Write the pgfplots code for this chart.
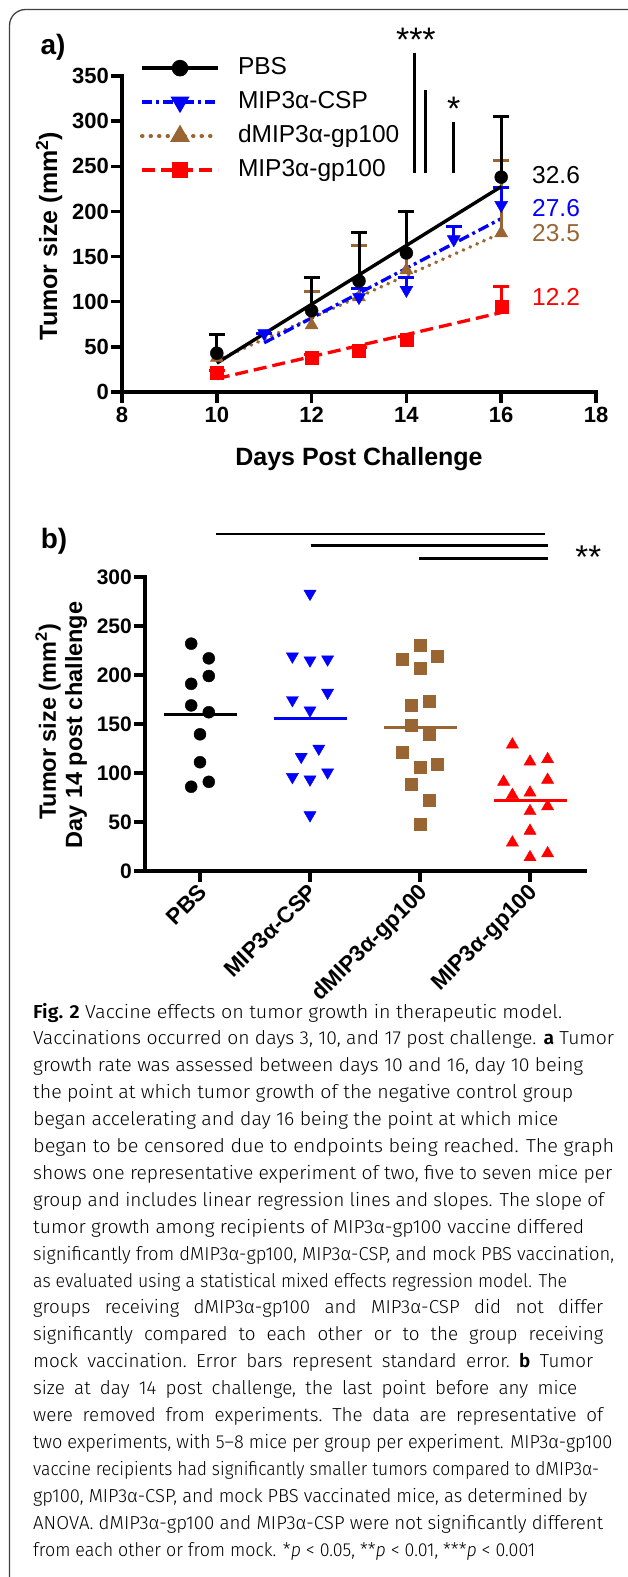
\documentclass[border=0pt]{standalone}
\usepackage{fontspec}
\usepackage{graphicx}
\setmainfont{Liberation Sans}
\newfontfamily\capfont{Fira Sans Light}[BoldFont={Fira Sans SemiBold},ItalicFont={Fira Sans Light Italic}]
\usepackage{pgfplots}
\usepackage{pgfplotstable}
\pgfplotsset{compat=1.18}
\definecolor{csp}{HTML}{0000FF}
\definecolor{dmip}{HTML}{996633}
\definecolor{gp}{HTML}{FF0000}
\newcommand\fs[1]{\fontsize{#1}{#1}\selectfont}

% panel a: mean and upper error per day
\pgfplotstableread{
x y e
10 43 21
12 90 37
13 123 54
14 154 46
16 238 67
}\pbsA
\pgfplotstableread{
x y e
11 65 0
13 105 10
14 113 14
15 169 14
16 207 19
}\cspA
\pgfplotstableread{
x y e
10 38 26
12 74 37
13 105 57
14 135 65
16 176 80
}\dmipA
\pgfplotstableread{
x y e
10 21 3
12 38 3
13 46 3
14 58 3
16 94 23
}\gpA

% panel b: single mice at day 14 (x = group + jitter)
\pgfplotstableread{
x y
-0.08 232
0.08 217
0.08 199
-0.08 191
-0.08 169
0.08 162
0 139.5
0 111
0.08 91
-0.08 86
}\pbsB
\pgfplotstableread{
x y
1.00 283
0.84 219
1.00 215
1.16 216
1.16 182
0.84 174.5
1.00 164
1.08 125
0.92 116.6
1.16 100.7
0.84 96
1.00 93.5
1.00 57
}\cspB
\pgfplotstableread{
x y
2.00 230
2.16 219
1.84 216
2.00 207
2.08 173.5
1.92 169
1.92 149
2.08 140
1.84 121
2.16 109
2.00 106
1.92 89
2.08 72.4
2.00 48
}\dmipB
\pgfplotstableread{
x y
2.84 129
3.00 111.5
3.16 114
2.76 91
3.16 93
2.84 77.5
3.00 80
3.16 66
3.00 61
3.00 41
2.84 29
3.16 18
3.00 14
}\gpB

\pgfplotsset{
  prism/.style={
    scale only axis, clip=false,
    axis x line*=bottom, axis y line*=left,
    axis line style={line width=4pt, line cap=rect},
    every tick/.style={black, line width=3.5pt},
    tick align=outside, major tick length=11pt,
    /pgf/number format/assume math mode=true,
  },
  pbsS/.style={black, line width=3.5pt, solid, mark=*, mark size=6.5pt},
  cspS/.style={csp, line width=3.5pt, dash pattern=on 10pt off 4pt on 3pt off 4pt, mark=triangle*, mark size=7.5pt, mark options={rotate=180, solid}},
  dmipS/.style={dmip, line width=4pt, line cap=round, dash pattern=on 0.5pt off 8pt, mark=triangle*, mark size=7.5pt, mark options={solid}},
  gpS/.style={gp, line width=3.5pt, dash pattern=on 13pt off 6pt, mark=square*, mark size=6.5pt, mark options={solid}},
  ebar/.style={error bars/.cd, y dir=plus, y explicit, error bar style={line width=3pt, #1},
    error mark options={rotate=90, line width=3pt, mark size=8pt, #1}},
}

% caption lines: baseline y, width, text
\newcommand\capfit[3]{\node[anchor=base west, inner sep=0pt, font=\capfont\fs{18.8}] at (33pt,-#1pt)
  {\resizebox{#2pt}{\height}{#3}};}
\newcommand\capjust[3]{\node[anchor=base west, inner sep=0pt, font=\capfont\fs{18.8}] at (33pt,-#1pt)
  {\frenchspacing\spaceskip=\fontdimen2\font plus 1em minus 0.1em\makebox[#2pt][s]{#3}};}

\begin{document}
\begin{tikzpicture}
\useasboundingbox (0pt,0pt) rectangle (627pt,-1577pt);
\fill[white] (0pt,0pt) rectangle (627pt,-1577pt);
\draw[line width=1.3pt, black!75, rounded corners=16pt] (9.5pt,-1620pt) -- (9.5pt,-9.5pt) -- (680pt,-9.5pt);

% ---------------- panel a
\begin{axis}[prism,
  at={(122pt,-392pt)}, anchor=south west,
  width=474pt, height=316pt,
  xmin=8, xmax=18, ymin=0, ymax=350,
  xtick={8,10,12,14,16,18}, ytick={0,50,...,350},
  xticklabel style={font=\fs{22}\bfseries, inner sep=4pt},
  yticklabel style={font=\fs{22}\bfseries, inner sep=2pt},
  legend image code/.code={\draw[mark repeat=2,mark phase=2,#1] plot coordinates {(0pt,0pt) (38pt,0pt) (76pt,0pt)};},
  legend style={at={(axis cs:8.38,372)}, anchor=north west, draw=none, fill=none,
    inner sep=0pt, outer sep=0pt, row sep=10pt, column sep=18pt, font=\fs{24.5},
    nodes={inner sep=0pt, text height=18pt, text depth=6pt}},
  legend cell align=left,
]
\addlegendimage{pbsS}\addlegendentry{PBS}
\addlegendimage{cspS}\addlegendentry{MIP3α-CSP}
\addlegendimage{dmipS}\addlegendentry{dMIP3α-gp100}
\addlegendimage{gpS}\addlegendentry{MIP3α-gp100}

% significance bars
\addplot[black, line width=3pt, forget plot] coordinates {(14.17,376) (14.17,242.5)};
\addplot[black, line width=3pt, forget plot] coordinates {(14.41,334) (14.41,242.5)};
\addplot[black, line width=3pt, forget plot] coordinates {(15.0,299) (15.0,242.5)};

% regression lines
\addplot[gp, line width=3.3pt, dash pattern=on 13pt off 6pt, forget plot] coordinates {(10,14.8) (16,88)};
\addplot[dmip, line width=3.6pt, line cap=round, dash pattern=on 0.5pt off 7pt, forget plot] coordinates {(10,35) (16,176)};
\addplot[csp, line width=3.3pt, dash pattern=on 11pt off 4pt on 3pt off 4pt, forget plot] coordinates {(11,54.5) (16,192)};

% group means with upper error
\addplot[gp, only marks, mark=square*, mark size=6.5pt, mark options={draw=none, fill=gp}, forget plot, ebar=gp]
  table[x=x, y=y, y error=e] {\gpA};
\addplot[dmip, only marks, mark=triangle*, mark size=7.5pt, mark options={draw=none, fill=dmip}, forget plot, ebar=dmip]
  table[x=x, y=y, y error=e] {\dmipA};
\addplot[csp, only marks, mark=triangle*, mark size=7.5pt, mark options={draw=none, fill=csp, rotate=180}, forget plot, ebar=csp]
  table[x=x, y=y, y error=e] {\cspA};
\addplot[black, line width=3.4pt, forget plot] coordinates {(10,32) (16,227.5)};
\addplot[black, only marks, mark=*, mark size=6.5pt, mark options={draw=none, fill=black}, forget plot, ebar=black]
  table[x=x, y=y, y error=e] {\pbsA};

% slopes
\node[anchor=west, font=\fs{24.5}, inner sep=0pt] at (axis cs:16.65,240) {32.6};
\node[anchor=west, font=\fs{24.5}, inner sep=0pt, text=csp] at (axis cs:16.65,204) {27.6};
\node[anchor=west, font=\fs{24.5}, inner sep=0pt, text=dmip] at (axis cs:16.65,176) {23.5};
\node[anchor=west, font=\fs{24.5}, inner sep=0pt, text=gp] at (axis cs:16.65,105) {12.2};
\node[anchor=base, font=\fs{34}, inner sep=0pt] at (axis cs:14.2,377) {***};
\node[anchor=base, font=\fs{34}, inner sep=0pt] at (axis cs:15.0,301) {*};
\end{axis}

% ---------------- panel b
\begin{axis}[prism,
  at={(145pt,-871pt)}, anchor=south west,
  width=440pt, height=294pt,
  xmin=-0.5, xmax=3.5, ymin=0, ymax=300,
  xtick={0,1,2,3}, xticklabels={PBS,MIP3α-CSP,dMIP3α-gp100,MIP3α-gp100},
  ytick={0,50,...,300},
  xticklabel style={font=\fs{22.5}\bfseries, rotate=45, anchor=north east, inner sep=0pt, xshift=-2pt, yshift=2pt},
  yticklabel style={font=\fs{21}\bfseries, inner sep=2pt},
]
\addplot[black, only marks, mark=*, mark size=6pt, mark options={draw=none, fill=black}] table[x=x, y=y] {\pbsB};
\addplot[csp, only marks, mark=triangle*, mark size=7pt, mark options={draw=none, fill=csp, rotate=180}] table[x=x, y=y] {\cspB};
\addplot[dmip, only marks, mark=square*, mark size=6pt, mark options={draw=none, fill=dmip}] table[x=x, y=y] {\dmipB};
\addplot[gp, only marks, mark=triangle*, mark size=7pt, mark options={draw=none, fill=gp}] table[x=x, y=y] {\gpB};
% group means
\addplot[black, line width=3pt] coordinates {(-0.33,160) (0.34,160)};
\addplot[csp, line width=3pt] coordinates {(0.67,155.6) (1.34,155.6)};
\addplot[dmip, line width=3pt] coordinates {(1.67,146.6) (2.34,146.6)};
\addplot[gp, line width=3pt] coordinates {(2.67,72.4) (3.34,72.4)};
% significance bars
\addplot[black, line width=2.7pt] coordinates {(0.145,344) (3.14,344)};
\addplot[black, line width=2.7pt] coordinates {(1.006,332) (3.16,332)};
\addplot[black, line width=2.7pt] coordinates {(1.995,318.6) (3.16,318.6)};
\node[anchor=base, font=\fs{33}, inner sep=0pt] at (axis cs:3.53,309) {**};
\end{axis}

% ---------------- panel labels
\node[font=\fs{28}\bfseries] at (53pt,-47pt) {a)};
\node[font=\fs{28}\bfseries] at (54pt,-541pt) {b)};
\node[rotate=90, font=\fs{25}\bfseries] at (49pt,-236pt) {Tumor size (mm\textsuperscript{2})};
\node[font=\fs{25}\bfseries] at (359pt,-459pt) {Days Post Challenge};
\node[rotate=90, font=\fs{23.5}\bfseries] at (48pt,-722pt) {Tumor size (mm\textsuperscript{2})};
\node[rotate=90, font=\fs{23.5}\bfseries] at (76pt,-725pt) {Day 14 post challenge};

% ---------------- caption
\capfit{1018.0}{529}{\textbf{Fig. 2} Vaccine effects on tumor growth in therapeutic model.}
\capfit{1044.9}{581}{Vaccinations occurred on days 3, 10, and 17 post challenge. \textbf{a} Tumor}
\capfit{1071.8}{550}{growth rate was assessed between days 10 and 16, day 10 being}
\capfit{1098.7}{540}{the point at which tumor growth of the negative control group}
\capfit{1125.6}{525}{began accelerating and day 16 being the point at which mice}
\capfit{1152.5}{581}{began to be censored due to endpoints being reached. The graph}
\capfit{1179.4}{579}{shows one representative experiment of two, five to seven mice per}
\capfit{1206.3}{571}{group and includes linear regression lines and slopes. The slope of}
\capfit{1233.2}{551}{tumor growth among recipients of MIP3α-gp100 vaccine differed}
\capfit{1260.1}{581}{significantly from dMIP3α-gp100, MIP3α-CSP, and mock PBS vaccination,}
\capfit{1287.0}{534}{as evaluated using a statistical mixed effects regression model. The}
\capjust{1313.9}{570}{groups receiving dMIP3α-gp100 and MIP3α-CSP did not differ}
\capjust{1340.8}{570}{significantly compared to each other or to the group receiving}
\capjust{1367.7}{560}{mock vaccination. Error bars represent standard error. \textbf{b} Tumor}
\capjust{1394.6}{544}{size at day 14 post challenge, the last point before any mice}
\capjust{1421.5}{570}{were removed from experiments. The data are representative of}
\capfit{1448.4}{579}{two experiments, with 5–8 mice per group per experiment. MIP3α-gp100}
\capfit{1475.3}{566}{vaccine recipients had significantly smaller tumors compared to dMIP3α-}
\capfit{1502.2}{554}{gp100, MIP3α-CSP, and mock PBS vaccinated mice, as determined by}
\capfit{1529.1}{570}{ANOVA. dMIP3α-gp100 and MIP3α-CSP were not significantly different}
\capfit{1556.0}{502}{from each other or from mock. *\textit{p} < 0.05, **\textit{p} < 0.01, ***\textit{p} < 0.001}
\end{tikzpicture}
\end{document}
